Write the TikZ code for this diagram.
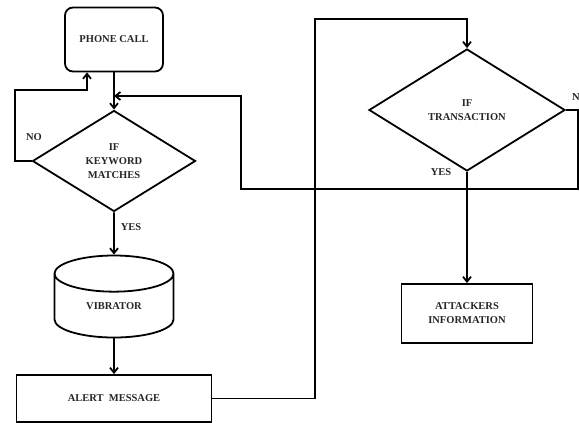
\documentclass[tikz,border=0pt]{standalone}
\usepackage{fontspec}
\setmainfont{Liberation Serif}
\usetikzlibrary{shapes.geometric,arrows.meta}
\begin{document}
\begin{tikzpicture}[x=1pt,y=-1pt,
  every node/.style={font=\fontsize{10.5}{14}\selectfont\bfseries, text=black!85},
  box/.style={draw, line width=1.8pt, inner sep=0pt, align=center},
  dec/.style={draw, diamond, line width=1.8pt, inner sep=0pt, align=center},
  conn/.style={line width=1.8pt},
  arr/.style={conn, -{Straight Barb[length=5pt,width=8pt]}},
  lbl/.style={inner sep=1pt}
]
\clip (0,0) rectangle (579,423);
\fill[white] (0,0) rectangle (579,423);
\node[box, rounded corners=8pt, minimum width=98, minimum height=64] (call) at (114,39.5) {PHONE CALL};
\node[dec, minimum width=163, minimum height=101] (kw) at (114,161) {IF\\KEYWORD\\MATCHES};
\node[box, cylinder, shape border rotate=90, aspect=0.65, minimum width=119, minimum height=82] (vib) at (114,306) {VIBRATOR};
\node[box, minimum width=195, minimum height=47] (alert) at (114,398.5) {ALERT\enspace MESSAGE};
\node[dec, minimum width=196, minimum height=122] (tr) at (467,110) {IF\\TRANSACTION};
\node[box, minimum width=131, minimum height=59] (att) at (467,313.5) {ATTACKERS\\INFORMATION};

\coordinate (m1) at (114,96);
\coordinate (c1) at (578,110);
\coordinate (c2) at (578,189);
\coordinate (c3) at (241,189);
\coordinate (c4) at (241,96);
\coordinate (l1) at (15,90);
\coordinate (a1) at (315,19);

\draw[arr] (call) -- (kw);
\draw[arr] (kw.west) -| (l1) -| ([xshift=-27pt]call.south);
\draw[arr] (tr.east) -- (c1) -- (c2) -- (c3) -- (c4) -- (m1);
\draw[arr] (kw) -- (vib);
\draw[arr] (vib) -- (alert);
\draw[arr] (alert.east) -| (a1) -| (tr.north);
\draw[arr] (tr) -- (att);

\node[lbl] (no1) at (34,137) {NO};
\node[lbl] (yes1) at (131,227) {YES};
\node[lbl] (yes2) at (441,172) {YES};
\node[lbl, anchor=west] (no2) at (571,97) {NO};
\end{tikzpicture}
\end{document}
